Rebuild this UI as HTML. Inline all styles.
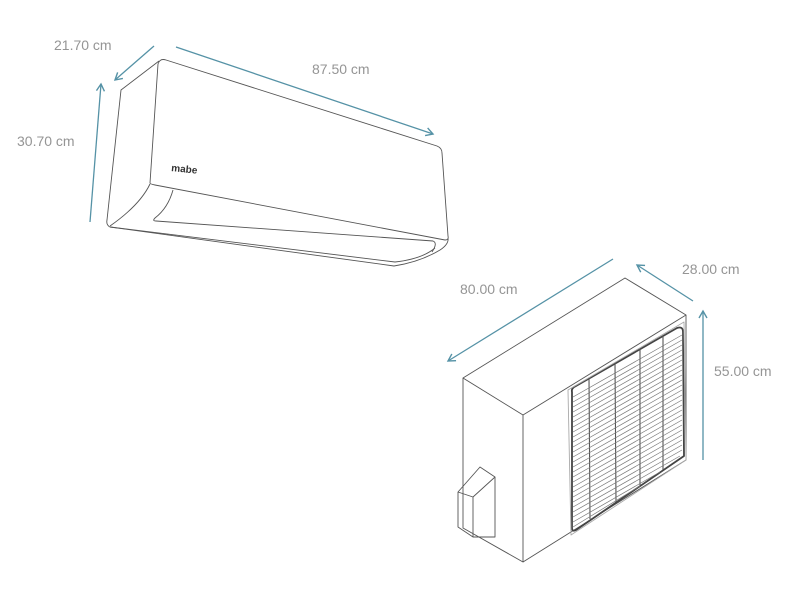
<!DOCTYPE html>
<html><head><style>
html,body{margin:0;padding:0;background:#fff;width:800px;height:600px;overflow:hidden}
text{font-family:"Liberation Sans",sans-serif;font-size:14px;fill:#959595}
</style></head><body>
<svg width="800" height="600" viewBox="0 0 800 600" xmlns="http://www.w3.org/2000/svg">
<defs>
<marker id="a" markerWidth="10" markerHeight="10" refX="8" refY="5" orient="auto" markerUnits="userSpaceOnUse">
<path d="M1,1 L8,5 L1,9" fill="none" stroke="#5592a6" stroke-width="1.4"/>
</marker>
</defs>
<g stroke="#5592a6" stroke-width="1.3" fill="none">
<line x1="154" y1="46" x2="115" y2="80" marker-end="url(#a)"/>
<line x1="176" y1="47" x2="433" y2="134" marker-end="url(#a)"/>
<line x1="90" y1="222" x2="101" y2="84" marker-end="url(#a)"/>
<line x1="613" y1="259" x2="448" y2="361" marker-end="url(#a)"/>
<line x1="693" y1="301" x2="637" y2="265" marker-end="url(#a)"/>
<line x1="703" y1="460" x2="703" y2="311" marker-end="url(#a)"/>
</g>
<text x="54" y="50">21.70 cm</text>
<text x="312" y="74">87.50 cm</text>
<text x="17" y="146">30.70 cm</text>
<text x="460" y="294">80.00 cm</text>
<text x="682" y="274">28.00 cm</text>
<text x="714" y="376">55.00 cm</text>

<g stroke="#555" stroke-width="0.9" fill="none" stroke-linejoin="round">
<path d="M150,183 L158,64 Q160,58 166,60 L437,146 Q442,148 442,153 L448,236 Q449,240 445,240 L155,185 Q150,184 150,183 Z"/>
<path d="M159,61 L121,90 L107,220 Q106,225 110,227 L394,266 Q420,262 440,250 Q449,244 448,238"/>
<path d="M150,184 Q140,205 110,226"/>
<path d="M173,190 Q168,208 155,218 Q152,221 156,221 L433,241 Q438,243 432,252"/>
<path d="M110,227 L395,262 Q422,259 435,248"/>
<path d="M463,378 L625,278 L686,315 L523,415 Z"/>
<path d="M463,378 L463,528 L523,562 L523,415"/>
<path d="M686,315 L686,460 L523,562"/>
<path d="M572,392 Q571,388 576,386 L677,328 Q683,326 683,332 L684,456 L576,530 Q572,532 572,528 Z" stroke-width="1.8" stroke="#444"/>
<path d="M568,390 L684,322 L686,460 L571,535 Z" stroke="#aaa"/>
<path d="M458,492 L480,467 L495,477 L473,497 Z"/>
<path d="M458,492 L458,527 L473,537 L495,537 L495,477"/>
<line x1="473" y1="497" x2="473" y2="537"/>
<line x1="589" y1="378" x2="590" y2="519" stroke-width="1.1"/>
<line x1="615" y1="363" x2="616" y2="502" stroke-width="1.1"/>
<line x1="640" y1="349" x2="640" y2="485" stroke-width="1.1"/>
<line x1="663" y1="336" x2="663" y2="470" stroke-width="1.1"/>
</g>
<g stroke="#777" stroke-width="0.7">
<line x1="573" y1="397" x2="682" y2="335"/><line x1="573" y1="402" x2="682" y2="340"/><line x1="573" y1="407" x2="682" y2="345"/><line x1="573" y1="412" x2="682" y2="350"/><line x1="573" y1="417" x2="682" y2="355"/><line x1="573" y1="422" x2="682" y2="360"/><line x1="573" y1="427" x2="682" y2="365"/><line x1="573" y1="432" x2="682" y2="370"/><line x1="573" y1="437" x2="682" y2="375"/><line x1="573" y1="442" x2="682" y2="380"/><line x1="573" y1="447" x2="682" y2="385"/><line x1="573" y1="452" x2="682" y2="390"/><line x1="573" y1="457" x2="682" y2="395"/><line x1="573" y1="462" x2="682" y2="400"/><line x1="573" y1="467" x2="682" y2="405"/><line x1="573" y1="472" x2="682" y2="410"/><line x1="573" y1="477" x2="682" y2="415"/><line x1="573" y1="482" x2="682" y2="420"/><line x1="573" y1="487" x2="682" y2="425"/><line x1="573" y1="492" x2="682" y2="430"/><line x1="573" y1="497" x2="682" y2="435"/><line x1="573" y1="502" x2="682" y2="440"/><line x1="573" y1="507" x2="682" y2="445"/><line x1="573" y1="512" x2="682" y2="450"/><line x1="573" y1="517" x2="680" y2="456"/><line x1="573" y1="522" x2="660" y2="472"/><line x1="573" y1="527" x2="640" y2="486"/>
</g>
<text x="171" y="171" style="font-size:10px;font-weight:bold;fill:#333" transform="rotate(6 171 171)">mabe</text>
</svg>
</body></html>
